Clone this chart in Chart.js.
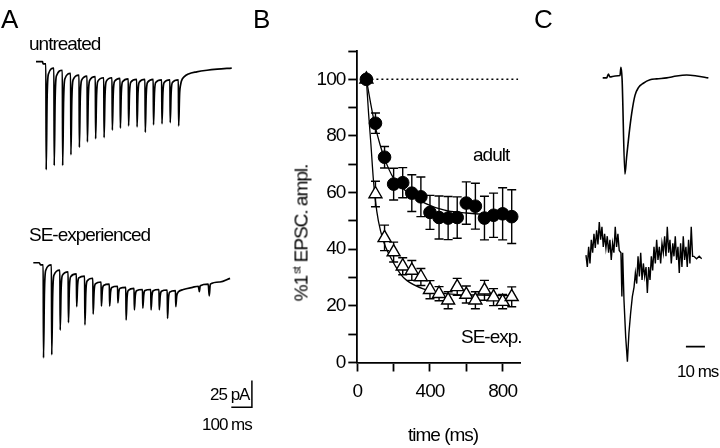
<!DOCTYPE html>
<html>
<head>
<meta charset="utf-8">
<script src="https://cdn.jsdelivr.net/npm/chart.js@4.4.1/dist/chart.umd.min.js"></script>
<style>
  body { margin: 0; background: #fff; }
  #wrap { position: relative; width: 720px; height: 448px; background: #fff; overflow: hidden; }
  #wrap canvas { position: absolute; left: 0; top: 0; }
  .lbl { position: absolute; font-family: 'Liberation Sans', Arial, sans-serif; font-size: 19px; line-height: 1; letter-spacing: -1px; color: #000; white-space: nowrap; }
  .panel { font-size: 26px; letter-spacing: 0; }
  .small { font-size: 17px; }
  #ytitle { left: 301px; top: 233px; transform: translate(-50%, -50%) rotate(-90deg); }
  #ytitle sup { font-size: 11px; line-height: 0; vertical-align: 7px; margin: 0 5px 0 2px; }
</style>
</head>
<body>
<div id="wrap">
  <canvas id="trace-a" width="720" height="448"></canvas>
  <canvas id="chart-b" width="720" height="448"></canvas>
  <canvas id="trace-c" width="720" height="448"></canvas>

  <div class="lbl panel" style="left:1px;top:6px">A</div>
  <div class="lbl panel" style="left:253px;top:6px">B</div>
  <div class="lbl panel" style="left:534px;top:6px">C</div>

  <div class="lbl" style="left:29px;top:34px">untreated</div>
  <div class="lbl" style="left:29px;top:225px">SE-experienced</div>
  <div class="lbl small" style="left:210px;top:386px">25 pA</div>
  <div class="lbl small" style="left:202px;top:416px">100 ms</div>

  <div class="lbl" style="left:473px;top:145px">adult</div>
  <div class="lbl" style="left:461px;top:327px">SE-exp.</div>
  <div class="lbl" style="left:408px;top:425px">time (ms)</div>
  <div class="lbl" id="ytitle">%1<sup>st</sup>EPSC. ampl.</div>

  <div class="lbl small" style="left:677px;top:363px">10 ms</div>
</div>

<script>
Chart.defaults.font.family = "'Liberation Sans', Arial, sans-serif";
Chart.defaults.color = '#000';

// ---- panel B: normalised EPSC amplitude during the train ----
const timesMs = [50, 100, 150, 200, 250, 300, 350, 400, 450, 500, 550, 600, 650, 700, 750, 800, 850];
const adultMean = [100, 84.5, 72.5, 63, 63.5, 59.8, 58.5, 53, 51.2, 51, 51.2, 56.3, 55.2, 51, 52, 52.5, 51.5];
const adultSem = [0, 3.6, 3.8, 5.6, 5.3, 6.5, 7, 6, 7.6, 7.6, 7.3, 7.5, 8.1, 7.7, 7.8, 9.2, 9.5];
const seMean = [100, 59.5, 44, 39, 34, 32.5, 30.2, 25.7, 24.3, 22, 26.7, 24, 22, 25.5, 23.1, 21.5, 23.2];
const seSem = [0, 4.5, 4.5, 3.5, 3, 3.5, 3, 3.2, 2.5, 3, 3, 3, 3, 3.5, 3, 2.5, 3.5];

// exponential fits
const adultFitMs = [50, 75, 100, 125, 150, 200, 250, 300, 350, 400, 450, 500, 600, 700, 850];
const adultFit = [100, 91, 83, 77, 72, 65, 61.5, 59, 57, 55.5, 54.3, 53.5, 52.8, 52.3, 51.8];
const seFitMs = [50, 62, 75, 88, 100, 116, 143, 180, 235, 272, 363, 455, 550, 675, 850];
const seFit = [100, 88, 77, 65, 57, 50, 43, 37.5, 31.5, 29, 26, 24.6, 24, 23.8, 23.6];

const controlLevel = 100;
const controlFromMs = 50;
const controlToMs = 885;

// ---- panel A: EPSC trains (pA vs ms) ----
const untreatedLead = [[0, 0], [32, 0], [34, -2], [46, -2]];
const untreatedSpikeMs = [48, 87, 128, 168, 209, 248, 288, 329, 369, 408, 448, 489, 529, 569, 610, 650, 691];
const untreatedPre = [-2, -6, -8, -11, -12.5, -13.5, -14, -15, -15, -15.5, -16, -16.5, -16.5, -16.5, -17, -17, -17];
const untreatedPeak = [-101, -97, -97, -87, -80, -75, -72, -71, -64, -62, -60, -61, -66, -59, -58, -57, -60];
const untreatedTail = [[706, -18], [720, -14], [740, -11.5], [780, -9.5], [830, -8], [880, -7], [950, -6]];

const seLead = [[-13, 0], [16, 0], [22, -2], [33, -2]];
const seSpikeMs = [35, 75, 116, 156, 196, 236, 276, 316, 356, 396, 436, 476, 517, 557, 597, 637, 677];
const sePre = [-2, -2, -7, -8.5, -10.5, -12.5, -14.5, -18, -20, -22, -23, -24, -25, -25, -25, -25.5, -26];
const sePeak = [-89, -86, -63, -56, -41, -58, -48, -40.5, -40.5, -37.5, -53.5, -44, -42.5, -44, -44, -52, -41];
const seTail = [[692, -27], [715, -25], [760, -23], [788, -22], [793, -27], [797, -21.5], [836, -20], [841, -31], [846, -20], [893, -18], [942, -14.6]];

const barMs = 100;
const barPA = 25;
const barEndMs = 1048;
const barLevelPA = -135;

// ---- panel C: single EPSCs, normalised to peak ----
const cTopMs = [0, 2.1, 3.0, 3.8, 6.5, 9.1, 9.6, 10.2, 11.7, 12.6, 13.8, 15.3, 17.0, 18.8, 21.4, 24.9, 28.4, 33.7, 38.9, 44.2, 49.5, 55.6];
const cTopNorm = [-0.01, -0.01, 0.03, 0, 0.01, 0.015, 0.10, -0.02, -1.0, -0.82, -0.6, -0.37, -0.19, -0.11, -0.065, -0.03, -0.02, -0.01, 0.01, 0.02, 0.01, -0.01];
const cBotMs = [-8.8, -8.1, -7.4, -6.7, -6.0, -5.3, -4.6, -3.9, -3.2, -2.5, -1.8, -1.1, -0.4, 0.3, 1.0, 1.7, 2.4, 3.1, 3.8, 4.5, 5.2, 5.9, 6.6, 7.3, 8.0, 8.7, 9.6, 10.1, 10.5, 11.2, 12.1, 13.0, 13.8, 14.7, 15.6, 16.5, 17.2, 17.9, 18.6, 19.3, 20.0, 20.7, 21.4, 22.1, 22.8, 23.5, 24.2, 24.9, 25.6, 26.3, 27.0, 27.7, 28.4, 29.1, 29.8, 30.5, 31.2, 31.9, 32.6, 33.3, 34.0, 34.7, 35.4, 36.1, 36.9, 37.5, 38.2, 38.9, 39.6, 40.3, 41.0, 41.7, 42.4, 43.1, 43.8, 44.5, 45.2, 45.9, 46.6, 47.3, 48.0, 49.4, 50.8, 52.1];
const cBotNorm = [-0.10, -0.20, -0.03, -0.17, 0.03, -0.08, 0.08, -0.04, 0.11, -0.01, 0.18, 0.03, 0.14, -0.03, 0.08, -0.04, 0.06, -0.08, 0.03, -0.14, 0, -0.08, 0.14, -0.03, 0.08, -0.06, -0.08, -0.45, -0.08, -0.48, -0.79, -1.0, -0.76, -0.59, -0.45, -0.37, -0.25, -0.34, -0.11, -0.28, -0.08, -0.31, -0.17, -0.28, -0.20, -0.42, -0.20, -0.31, -0.11, -0.23, -0.03, -0.17, 0.03, -0.14, -0.03, -0.17, 0, -0.08, 0.06, -0.11, 0.14, -0.08, 0.03, -0.17, 0, -0.11, 0.06, -0.14, -0.03, -0.25, 0, -0.20, 0.06, -0.14, -0.03, -0.20, 0.03, -0.17, 0.14, -0.11, -0.11, -0.13, -0.11, -0.13];
const cBarMs = 10;
const cBarStartMs = 43.8;
const cBarLevel = -0.873;

function toPoints(xs, ys) {
    return xs.map((x, i) => ({ x: x, y: ys[i] }));
}

function pairsToPoints(pairs) {
    return pairs.map(p => ({ x: p[0], y: p[1] }));
}

// builds the trace from the read onset levels and peaks: fast fall, quick recovery
function buildTrain(lead, spikes, pre, peaks, tail) {
    const pts = pairsToPoints(lead);
    for (let k = 0; k < spikes.length; k++) {
        const next = k + 1 < spikes.length ? pre[k + 1] : tail[0][1];
        const amp = peaks[k] - next;
        pts.push({ x: spikes[k], y: pre[k] });
        pts.push({ x: spikes[k] + 1.5, y: peaks[k] });
        pts.push({ x: spikes[k] + 6, y: next + amp * 0.3 });
        pts.push({ x: spikes[k] + 12, y: next + amp * 0.06 });
    }
    return pts.concat(pairsToPoints(tail));
}

const hidden = { display: false };

function traceSet(data, axis, opts) {
    return Object.assign({
        data: data,
        yAxisID: axis,
        borderColor: '#000',
        borderWidth: 1.7,
        pointRadius: 0,
        fill: false
    }, opts || {});
}

// ---- panel A chart ----
new Chart(document.getElementById('trace-a'), {
    type: 'line',
    data: {
        datasets: [
            traceSet(buildTrain(untreatedLead, untreatedSpikeMs, untreatedPre, untreatedPeak, untreatedTail), 'yU', { cubicInterpolationMode: 'monotone' }),
            traceSet(buildTrain(seLead, seSpikeMs, sePre, sePeak, seTail), 'yS', { cubicInterpolationMode: 'monotone' }),
            traceSet([
                { x: barEndMs - barMs, y: barLevelPA },
                { x: barEndMs, y: barLevelPA },
                { x: barEndMs, y: barLevelPA + barPA }
            ], 'yS', { borderWidth: 1.5 })
        ]
    },
    options: {
        responsive: false,
        animation: false,
        events: [],
        layout: { padding: { left: 29.8, right: 461.5, top: 50, bottom: 36 } },
        plugins: { legend: hidden, tooltip: { enabled: false } },
        scales: {
            x: { type: 'linear', display: false, min: -30, max: 1080 },
            yU: { type: 'linear', display: false, min: -327.4, max: 10.93 },
            yS: { type: 'linear', display: false, min: -139.5, max: 198.8 }
        }
    }
});

// ---- panel B chart ----
const errorBars = {
    id: 'errorBars',
    beforeDatasetsDraw(chart) {
        const { ctx, scales: { x, y } } = chart;
        ctx.save();
        ctx.strokeStyle = '#000';
        ctx.lineWidth = 1.4;
        [[adultMean, adultSem], [seMean, seSem]].forEach(([m, e]) => {
            timesMs.forEach((t, i) => {
                if (!e[i]) return;
                const px = x.getPixelForValue(t);
                const top = y.getPixelForValue(m[i] + e[i]);
                const bot = y.getPixelForValue(m[i] - e[i]);
                ctx.beginPath();
                ctx.moveTo(px, top); ctx.lineTo(px, bot);
                ctx.moveTo(px - 4.5, top); ctx.lineTo(px + 4.5, top);
                ctx.moveTo(px - 4.5, bot); ctx.lineTo(px + 4.5, bot);
                ctx.stroke();
            });
        });
        ctx.restore();
    }
};

const tightText = {
    id: 'tightText',
    beforeDraw(chart) { chart.ctx.letterSpacing = '-1px'; }
};

const axisStyle = {
    border: { display: true, color: '#000', width: 1.8 },
    grid: { display: true, drawOnChartArea: false, drawTicks: true, tickLength: 9, tickWidth: 1.8, tickColor: '#000' }
};

new Chart(document.getElementById('chart-b'), {
    type: 'line',
    data: {
        datasets: [
            {
                label: 'SE-exp.',
                data: toPoints(timesMs, seMean),
                showLine: false,
                pointStyle: 'triangle',
                pointRadius: 7.5,
                pointBorderWidth: 1.4,
                pointBorderColor: '#000',
                pointBackgroundColor: ctx => ctx.dataIndex === 0 ? '#000' : '#fff'
            },
            {
                label: 'adult',
                data: toPoints(timesMs, adultMean),
                showLine: false,
                pointStyle: 'circle',
                pointRadius: 6.3,
                pointBorderWidth: 1,
                pointBorderColor: '#000',
                pointBackgroundColor: '#000'
            },
            {
                data: toPoints(adultFitMs, adultFit),
                borderColor: '#000', borderWidth: 1.3, pointRadius: 0,
                cubicInterpolationMode: 'monotone'
            },
            {
                data: toPoints(seFitMs, seFit),
                borderColor: '#000', borderWidth: 1.3, pointRadius: 0,
                cubicInterpolationMode: 'monotone'
            },
            {
                data: [{ x: controlFromMs, y: controlLevel }, { x: controlToMs, y: controlLevel }],
                borderColor: '#000', borderWidth: 1.5, borderDash: [2, 3], pointRadius: 0
            }
        ]
    },
    options: {
        responsive: false,
        animation: false,
        events: [],
        layout: { padding: { left: 0, right: 199.2, top: 51, bottom: 0 } },
        plugins: { legend: hidden, tooltip: { enabled: false } },
        scales: {
            x: Object.assign({
                type: 'linear', min: 0, max: 900,
                afterFit: s => { s.height = 85.5; },
                ticks: {
                    stepSize: 200, includeBounds: false, autoSkip: false, maxRotation: 0,
                    padding: 9, font: { size: 19 },
                    callback: v => (v % 400 === 0 ? v : '')
                }
            }, axisStyle),
            y: Object.assign({
                type: 'linear', min: 0, max: 110,
                afterFit: s => { s.width = 357.3; },
                ticks: {
                    stepSize: 10, autoSkip: false, padding: 3, font: { size: 19 },
                    callback: v => (v % 20 === 0 && v <= 100 ? v : '')
                }
            }, axisStyle)
        }
    },
    plugins: [errorBars, tightText]
});

// ---- panel C chart ----
new Chart(document.getElementById('trace-c'), {
    type: 'line',
    data: {
        datasets: [
            traceSet(toPoints(cTopMs, cTopNorm), 'yTop', { borderWidth: 1.6, cubicInterpolationMode: 'monotone' }),
            traceSet(toPoints(cBotMs, cBotNorm), 'yBot', { borderWidth: 1.4 }),
            traceSet([{ x: cBarStartMs, y: cBarLevel }, { x: cBarStartMs + cBarMs, y: cBarLevel }], 'yBot', { borderWidth: 1.6 })
        ]
    },
    options: {
        responsive: false,
        animation: false,
        events: [],
        layout: { padding: { left: 583.7, right: 3.3, top: 55, bottom: 73 } },
        plugins: { legend: hidden, tooltip: { enabled: false } },
        scales: {
            x: { type: 'linear', display: false, min: -10, max: 60 },
            yTop: { type: 'linear', display: false, min: -3.063, max: 0.2253 },
            yBot: { type: 'linear', display: false, min: -1.1123, max: 1.5904 }
        }
    }
});
</script>
</body>
</html>
